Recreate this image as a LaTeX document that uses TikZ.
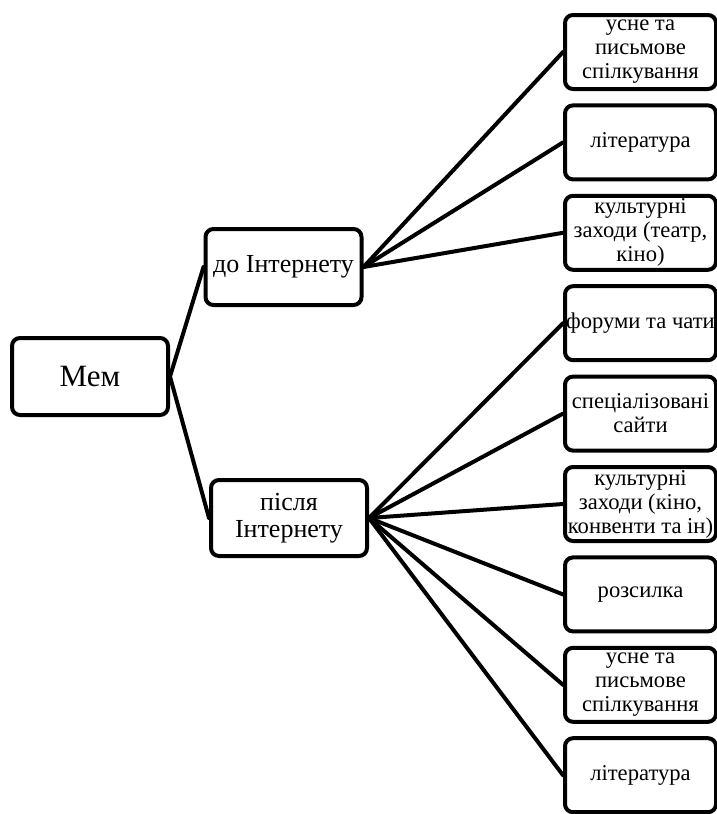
\documentclass[tikz,border=0pt]{standalone}
\usepackage{fontspec}
\setmainfont{Liberation Serif}
\usetikzlibrary{positioning}

\begin{document}
\begin{tikzpicture}[
    x=0.5pt, y=-0.5pt,
    box/.style={rectangle, draw, line width=2pt, rounded corners=4pt, align=center, inner sep=1pt, font=\fontsize{11.3}{12}\selectfont},
    root/.style={box, minimum width=78pt, minimum height=38.5pt, font=\fontsize{15.5}{17}\selectfont},
    branch/.style={box, minimum width=78pt, minimum height=38pt, font=\fontsize{13}{13.8}\selectfont},
    leaf/.style={box, inner xsep=0pt, minimum width=75.5pt, minimum height=37pt},
    link/.style={line width=2pt, line cap=round},
    node distance=6.2pt
]
    \useasboundingbox (0,0) rectangle (717,814);

    % Root and branches
    \node[root] (mem) at (90,376.5) {Мем};
    \node[branch] (before) at (283.5,267) {до Інтернету};
    \node[branch] (after) at (289,518) {після\\Інтернету};

    % Leaves before the Internet
    \node[leaf] (b1) at (640.5,52) {усне та\\письмове\\спілкування};
    \node[leaf, below=of b1] (b2) {література};
    \node[leaf, below=of b2] (b3) {культурні\\заходи (театр,\\кіно)};

    % Leaves after the Internet
    \node[leaf, below=of b3] (a1) {форуми та чати};
    \node[leaf, below=of a1] (a2) {спеціалізовані\\сайти};
    \node[leaf, below=of a2] (a3) {культурні\\заходи (кіно,\\конвенти та ін)};
    \node[leaf, below=of a3] (a4) {розсилка};
    \node[leaf, below=of a4] (a5) {усне та\\письмове\\спілкування};
    \node[leaf, below=of a5] (a6) {література};

    % Links
    \draw[link] (mem.east) -- (before.west);
    \draw[link] (mem.east) -- (after.west);
    \foreach \i in {1,2,3}
        \draw[link] (before.east) -- (b\i.west);
    \foreach \i in {1,...,6}
        \draw[link] (after.east) -- (a\i.west);
\end{tikzpicture}
\end{document}
